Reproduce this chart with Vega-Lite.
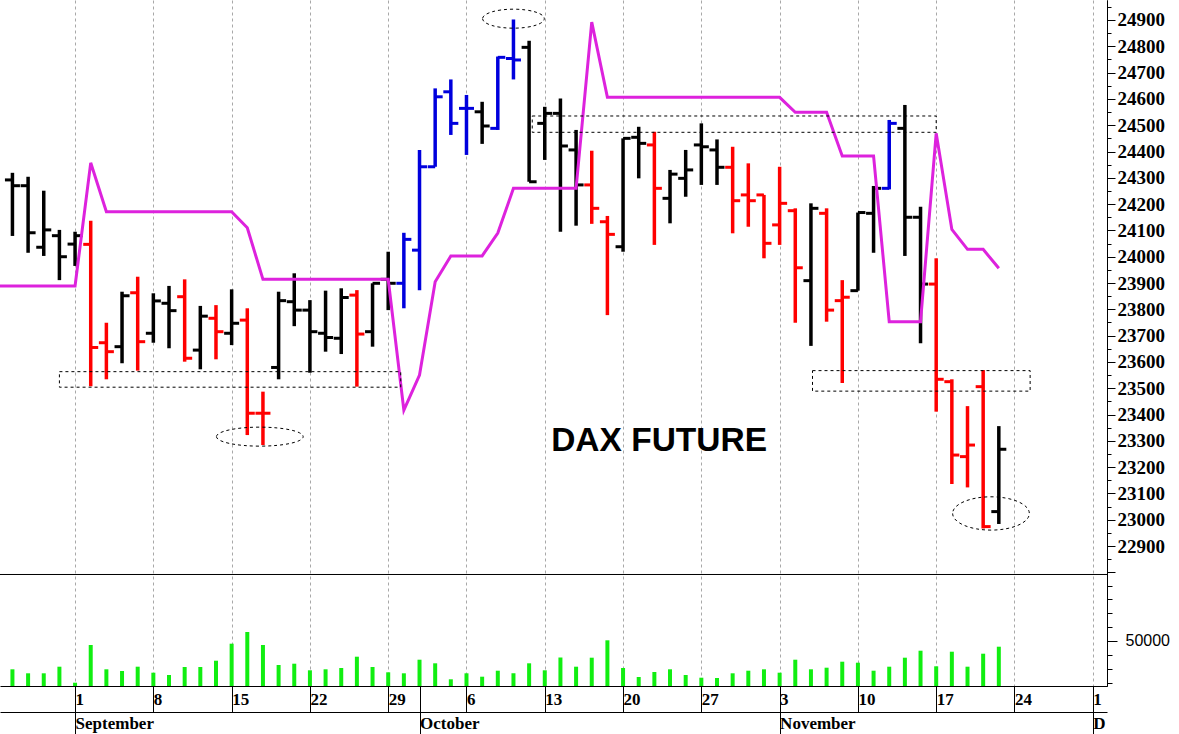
{
  "$schema": "https://vega.github.io/schema/vega-lite/v6.json",
  "width": 1107,
  "height": 686,
  "autosize": {"type": "none"},
  "padding": {"left": 0, "top": 0, "right": 72, "bottom": 48},
  "background": "white",
  "config": {
    "view": {"stroke": null},
    "axis": {"domainColor": "#000", "tickColor": "#000", "labelColor": "#000", "domainWidth": 1, "tickWidth": 1}
  },
  "datasets": {
    "px": [
      {"d": "2025-08-25", "i": -5, "s": 23889},
      {"d": "2025-08-26", "i": -4, "col": "k", "o": 24292, "h": 24319, "l": 24079, "c": 24270, "s": 23889, "v": 29560},
      {"d": "2025-08-27", "i": -3, "col": "k", "o": 24270, "h": 24304, "l": 24015, "c": 24091, "s": 23889, "v": 26670},
      {"d": "2025-08-28", "i": -2, "col": "k", "o": 24036, "h": 24251, "l": 24003, "c": 24102, "s": 23889, "v": 26670},
      {"d": "2025-08-29", "i": -1, "col": "k", "o": 24080, "h": 24102, "l": 23911, "c": 24000, "s": 23889, "v": 31440},
      {"d": "2025-09-01", "i": 0, "col": "k", "o": 24048, "h": 24095, "l": 23965, "c": 24080, "s": 23889, "v": 19880},
      {"d": "2025-09-02", "i": 1, "col": "r", "o": 24047, "h": 24137, "l": 23508, "c": 23655, "s": 24357, "v": 47110},
      {"d": "2025-09-03", "i": 2, "col": "r", "o": 23673, "h": 23749, "l": 23534, "c": 23639, "s": 24171, "v": 29560},
      {"d": "2025-09-04", "i": 3, "col": "k", "o": 23658, "h": 23867, "l": 23595, "c": 23852, "s": 24171, "v": 28330},
      {"d": "2025-09-05", "i": 4, "col": "r", "o": 23863, "h": 23924, "l": 23567, "c": 23677, "s": 24171, "v": 31440},
      {"d": "2025-09-08", "i": 5, "col": "k", "o": 23709, "h": 23861, "l": 23673, "c": 23832, "s": 24171, "v": 27110},
      {"d": "2025-09-09", "i": 6, "col": "k", "o": 23823, "h": 23889, "l": 23652, "c": 23795, "s": 24171, "v": 25440},
      {"d": "2025-09-10", "i": 7, "col": "r", "o": 23848, "h": 23914, "l": 23601, "c": 23614, "s": 24171, "v": 31220},
      {"d": "2025-09-11", "i": 8, "col": "k", "o": 23645, "h": 23813, "l": 23572, "c": 23774, "s": 24171, "v": 31220},
      {"d": "2025-09-12", "i": 9, "col": "r", "o": 23766, "h": 23816, "l": 23610, "c": 23715, "s": 24171, "v": 35770},
      {"d": "2025-09-15", "i": 10, "col": "k", "o": 23709, "h": 23876, "l": 23664, "c": 23747, "s": 24171, "v": 48050},
      {"d": "2025-09-16", "i": 11, "col": "r", "o": 23759, "h": 23804, "l": 23322, "c": 23405, "s": 24110, "v": 56500},
      {"d": "2025-09-17", "i": 12, "col": "r", "o": 23405, "h": 23487, "l": 23284, "c": 23405, "s": 23914, "v": 47110},
      {"d": "2025-09-18", "i": 13, "col": "k", "o": 23579, "h": 23867, "l": 23534, "c": 23833, "s": 23914, "v": 32670},
      {"d": "2025-09-19", "i": 14, "col": "k", "o": 23829, "h": 23937, "l": 23736, "c": 23797, "s": 23914, "v": 33610},
      {"d": "2025-09-22", "i": 15, "col": "k", "o": 23797, "h": 23835, "l": 23559, "c": 23715, "s": 23914, "v": 28840},
      {"d": "2025-09-23", "i": 16, "col": "k", "o": 23709, "h": 23871, "l": 23639, "c": 23693, "s": 23914, "v": 29560},
      {"d": "2025-09-24", "i": 17, "col": "k", "o": 23690, "h": 23880, "l": 23630, "c": 23845, "s": 23914, "v": 30500},
      {"d": "2025-09-25", "i": 18, "col": "r", "o": 23854, "h": 23873, "l": 23506, "c": 23706, "s": 23914, "v": 38660},
      {"d": "2025-09-26", "i": 19, "col": "k", "o": 23715, "h": 23899, "l": 23658, "c": 23899, "s": 23914, "v": 31220},
      {"d": "2025-09-29", "i": 20, "col": "k", "o": 23914, "h": 24019, "l": 23797, "c": 23899, "s": 23914, "v": 27390},
      {"d": "2025-09-30", "i": 21, "col": "b", "o": 23899, "h": 24091, "l": 23804, "c": 24066, "s": 23417, "v": 26670},
      {"d": "2025-10-01", "i": 22, "col": "b", "o": 24025, "h": 24406, "l": 23873, "c": 24342, "s": 23550, "v": 36490},
      {"d": "2025-10-02", "i": 23, "col": "b", "o": 24342, "h": 24640, "l": 24342, "c": 24608, "s": 23905, "v": 33890},
      {"d": "2025-10-03", "i": 24, "col": "b", "o": 24627, "h": 24674, "l": 24463, "c": 24507, "s": 24003, "v": 22340},
      {"d": "2025-10-06", "i": 25, "col": "b", "o": 24564, "h": 24615, "l": 24387, "c": 24564, "s": 24003, "v": 26670},
      {"d": "2025-10-07", "i": 26, "col": "k", "o": 24551, "h": 24589, "l": 24429, "c": 24497, "s": 24003, "v": 24220},
      {"d": "2025-10-08", "i": 27, "col": "b", "o": 24488, "h": 24761, "l": 24482, "c": 24758, "s": 24090, "v": 28550},
      {"d": "2025-10-09", "i": 28, "col": "b", "o": 24754, "h": 24902, "l": 24674, "c": 24748, "s": 24260, "v": 26670},
      {"d": "2025-10-10", "i": 29, "col": "k", "o": 24796, "h": 24821, "l": 24285, "c": 24285, "s": 24260, "v": 33890},
      {"d": "2025-10-13", "i": 30, "col": "k", "o": 24507, "h": 24570, "l": 24368, "c": 24545, "s": 24260, "v": 28840},
      {"d": "2025-10-14", "i": 31, "col": "k", "o": 24545, "h": 24602, "l": 24095, "c": 24421, "s": 24260, "v": 38080},
      {"d": "2025-10-15", "i": 32, "col": "k", "o": 24406, "h": 24482, "l": 24118, "c": 24273, "s": 24260, "v": 31440},
      {"d": "2025-10-16", "i": 33, "col": "r", "o": 24273, "h": 24403, "l": 24125, "c": 24184, "s": 24892, "v": 37940},
      {"d": "2025-10-17", "i": 34, "col": "r", "o": 24133, "h": 24155, "l": 23778, "c": 24085, "s": 24606, "v": 50500},
      {"d": "2025-10-20", "i": 35, "col": "k", "o": 24038, "h": 24450, "l": 24019, "c": 24450, "s": 24606, "v": 30500},
      {"d": "2025-10-21", "i": 36, "col": "k", "o": 24454, "h": 24494, "l": 24298, "c": 24431, "s": 24606, "v": 24000},
      {"d": "2025-10-22", "i": 37, "col": "r", "o": 24425, "h": 24475, "l": 24045, "c": 24260, "s": 24606, "v": 27610},
      {"d": "2025-10-23", "i": 38, "col": "k", "o": 24222, "h": 24330, "l": 24127, "c": 24314, "s": 24606, "v": 29560},
      {"d": "2025-10-24", "i": 39, "col": "k", "o": 24298, "h": 24406, "l": 24228, "c": 24330, "s": 24606, "v": 25440},
      {"d": "2025-10-27", "i": 40, "col": "k", "o": 24425, "h": 24507, "l": 24273, "c": 24418, "s": 24606, "v": 23490},
      {"d": "2025-10-28", "i": 41, "col": "k", "o": 24406, "h": 24446, "l": 24273, "c": 24340, "s": 24606, "v": 23280},
      {"d": "2025-10-29", "i": 42, "col": "r", "o": 24340, "h": 24418, "l": 24089, "c": 24213, "s": 24606, "v": 26670},
      {"d": "2025-10-30", "i": 43, "col": "r", "o": 24235, "h": 24355, "l": 24114, "c": 24213, "s": 24606, "v": 28550},
      {"d": "2025-10-31", "i": 44, "col": "r", "o": 24235, "h": 24235, "l": 23994, "c": 24051, "s": 24606, "v": 29560},
      {"d": "2025-11-03", "i": 45, "col": "r", "o": 24121, "h": 24342, "l": 24045, "c": 24203, "s": 24606, "v": 27110},
      {"d": "2025-11-04", "i": 46, "col": "r", "o": 24175, "h": 24184, "l": 23749, "c": 23958, "s": 24549, "v": 36490},
      {"d": "2025-11-05", "i": 47, "col": "k", "o": 23909, "h": 24203, "l": 23661, "c": 24184, "s": 24549, "v": 29560},
      {"d": "2025-11-06", "i": 48, "col": "r", "o": 24165, "h": 24184, "l": 23753, "c": 23797, "s": 24549, "v": 30720},
      {"d": "2025-11-07", "i": 49, "col": "r", "o": 23833, "h": 23911, "l": 23520, "c": 23846, "s": 24383, "v": 35050},
      {"d": "2025-11-10", "i": 50, "col": "k", "o": 23871, "h": 24168, "l": 23871, "c": 24168, "s": 24383, "v": 34330},
      {"d": "2025-11-11", "i": 51, "col": "k", "o": 24165, "h": 24269, "l": 24015, "c": 24260, "s": 24383, "v": 28550},
      {"d": "2025-11-12", "i": 52, "col": "b", "o": 24260, "h": 24520, "l": 24256, "c": 24507, "s": 23753, "v": 31440},
      {"d": "2025-11-13", "i": 53, "col": "k", "o": 24488, "h": 24577, "l": 24003, "c": 24150, "s": 23753, "v": 37940},
      {"d": "2025-11-14", "i": 54, "col": "k", "o": 24150, "h": 24190, "l": 23671, "c": 23896, "s": 23753, "v": 42990},
      {"d": "2025-11-17", "i": 55, "col": "r", "o": 23896, "h": 23994, "l": 23411, "c": 23534, "s": 24469, "v": 31730},
      {"d": "2025-11-18", "i": 56, "col": "r", "o": 23525, "h": 23534, "l": 23136, "c": 23246, "s": 24104, "v": 42270},
      {"d": "2025-11-19", "i": 57, "col": "r", "o": 23240, "h": 23432, "l": 23123, "c": 23284, "s": 24028, "v": 31440},
      {"d": "2025-11-20", "i": 58, "col": "r", "o": 23506, "h": 23569, "l": 22967, "c": 22974, "s": 24028, "v": 40830},
      {"d": "2025-11-21", "i": 59, "col": "k", "o": 23031, "h": 23356, "l": 22984, "c": 23268, "s": 23956, "v": 45880}
    ],
    "boxes": [
      {"x1": -1.0, "x2": 20.8, "p1": 23504, "p2": 23563},
      {"x1": 29.2, "x2": 55.0, "p1": 24473, "p2": 24535},
      {"x1": 47.1, "x2": 61.0, "p1": 23489, "p2": 23567}
    ],
    "ovals": [
      {"name": "e1", "i": 11.8, "p": 23316},
      {"name": "e2", "i": 28.0, "p": 24905},
      {"name": "e3", "i": 58.5, "p": 23024}
    ]
  },
  "resolve": {"scale": {"y": "independent"}, "axis": {"x": "independent", "y": "independent"}},
  "layer": [
    {
      "data": {"name": "px"},
      "mark": {"type": "rule", "strokeWidth": 3.5},
      "encoding": {
        "x": {
          "field": "i", "type": "quantitative",
          "scale": {"domain": [-4.475, 65.59], "nice": false, "zero": false},
          "axis": {
            "orient": "bottom", "title": null,
            "values": [-5, 0, 5, 10, 15, 20, 22, 25, 30, 35, 40, 45, 50, 55, 60, 65],
            "labelExpr": "datum.value == -5 ? '25' : datum.value == 0 ? '1' : datum.value == 5 ? '8' : datum.value == 10 ? '15' : datum.value == 15 ? '22' : datum.value == 20 ? '29' : datum.value == 25 ? '6' : datum.value == 30 ? '13' : datum.value == 35 ? '20' : datum.value == 40 ? '27' : datum.value == 45 ? '3' : datum.value == 50 ? '10' : datum.value == 55 ? '17' : datum.value == 60 ? '24' : datum.value == 65 ? '1' : ''",
            "tickSize": 26, "labelPadding": -13, "labelBaseline": "middle", "labelAlign": "left", "labelDx": 3,
            "labelFont": "Liberation Serif", "labelFontWeight": "bold", "labelFontSize": 17,
            "labelOverlap": false, "labelFlush": false, "labelBound": false,
            "grid": true, "gridDash": [3, 3], "gridColor": "#a8a8a8", "gridWidth": 1,
            "gridOpacity": {"condition": {"test": "datum.value == 22", "value": 0}, "value": 1}
          }
        },
        "y": {
          "field": "h", "type": "quantitative",
          "scale": {"domain": [22368, 24976], "nice": false, "zero": false},
          "axis": {
            "orient": "right", "title": null, "grid": false,
            "values": [22800, 22850, 22900, 22950, 23000, 23050, 23100, 23150, 23200, 23250, 23300, 23350, 23400, 23450, 23500, 23550, 23600, 23650, 23700, 23750, 23800, 23850, 23900, 23950, 24000, 24050, 24100, 24150, 24200, 24250, 24300, 24350, 24400, 24450, 24500, 24550, 24600, 24650, 24700, 24750, 24800, 24850, 24900, 24950],
            "labelExpr": "datum.value >= 22900 && datum.value % 100 == 0 ? '' + datum.value : ''",
            "tickSize": {"condition": {"test": "datum.value % 100 == 0", "value": 8}, "value": 4},
            "labelPadding": 2, "labelBaseline": "middle",
            "labelFont": "Liberation Serif", "labelFontWeight": "bold", "labelFontSize": 19,
            "labelOverlap": false, "labelFlush": false, "labelBound": false
          }
        },
        "y2": {"field": "l"},
        "color": {"field": "col", "type": "nominal", "scale": {"domain": ["k", "r", "b"], "range": ["#000000", "#ff0000", "#0000dd"]}, "legend": null}
      }
    },
    {
      "data": {"name": "px"},
      "mark": {"type": "tick", "orient": "horizontal", "size": 7.5, "thickness": 3, "xOffset": -3.75, "opacity": 1},
      "encoding": {
        "x": {"field": "i", "type": "quantitative", "axis": null},
        "y": {"field": "o", "type": "quantitative", "axis": null, "scale": {"domain": [22368, 24976], "nice": false, "zero": false}},
        "color": {"field": "col", "type": "nominal", "legend": null}
      }
    },
    {
      "data": {"name": "px"},
      "mark": {"type": "tick", "orient": "horizontal", "size": 7.5, "thickness": 3, "xOffset": 3.75, "opacity": 1},
      "encoding": {
        "x": {"field": "i", "type": "quantitative", "axis": null},
        "y": {"field": "c", "type": "quantitative", "axis": null, "scale": {"domain": [22368, 24976], "nice": false, "zero": false}},
        "color": {"field": "col", "type": "nominal", "legend": null}
      }
    },
    {
      "data": {"name": "px"},
      "mark": {"type": "line", "color": "#dd22dd", "strokeWidth": 3, "clip": true},
      "encoding": {
        "x": {"field": "i", "type": "quantitative", "axis": null},
        "y": {"field": "s", "type": "quantitative", "axis": null, "scale": {"domain": [22368, 24976], "nice": false, "zero": false}}
      }
    },
    {
      "data": {"name": "boxes"},
      "mark": {"type": "rect", "fill": "transparent", "stroke": "#000", "strokeWidth": 1, "strokeDash": [3, 3]},
      "encoding": {
        "x": {"field": "x1", "type": "quantitative", "axis": null},
        "x2": {"field": "x2"},
        "y": {"field": "p1", "type": "quantitative", "axis": null, "scale": {"domain": [22368, 24976], "nice": false, "zero": false}},
        "y2": {"field": "p2"}
      }
    },
    {
      "data": {"name": "ovals"},
      "mark": {"type": "point", "filled": false, "stroke": "#000", "strokeWidth": 1, "strokeDash": [3, 3], "size": 10000, "opacity": 1},
      "encoding": {
        "x": {"field": "i", "type": "quantitative", "axis": null},
        "y": {"field": "p", "type": "quantitative", "axis": null, "scale": {"domain": [22368, 24976], "nice": false, "zero": false}},
        "shape": {
          "field": "name", "type": "nominal", "legend": null,
          "scale": {
            "domain": ["e1", "e2", "e3"],
            "range": [
              "M -0.867 0 A 0.867 0.19 0 1 0 0.867 0 A 0.867 0.19 0 1 0 -0.867 0 Z",
              "M -0.617 0 A 0.617 0.19 0 1 0 0.617 0 A 0.617 0.19 0 1 0 -0.617 0 Z",
              "M -0.767 0 A 0.767 0.333 0 1 0 0.767 0 A 0.767 0.333 0 1 0 -0.767 0 Z"
            ]
          }
        }
      }
    },
    {
      "data": {"values": [{"label": "DAX FUTURE", "i": 37.3, "p": 23300}]},
      "mark": {"type": "text", "font": "Liberation Sans", "fontWeight": "bold", "fontSize": 33.5, "align": "center", "baseline": "middle", "color": "#000"},
      "encoding": {
        "x": {"field": "i", "type": "quantitative", "axis": null},
        "y": {"field": "p", "type": "quantitative", "axis": null, "scale": {"domain": [22368, 24976], "nice": false, "zero": false}},
        "text": {"field": "label"}
      }
    },
    {
      "data": {"values": [{"p": 22791.9}]},
      "mark": {"type": "rule", "color": "#000", "strokeWidth": 1},
      "encoding": {
        "y": {"field": "p", "type": "quantitative", "axis": null, "scale": {"domain": [22368, 24976], "nice": false, "zero": false}}
      }
    },
    {
      "data": {"name": "px"},
      "mark": {"type": "bar", "size": 4, "color": "#11ee11"},
      "encoding": {
        "x": {
          "field": "i", "type": "quantitative",
          "axis": {
            "orient": "bottom", "offset": 26, "title": null,
            "values": [0, 22, 45, 65],
            "labelExpr": "datum.value == 0 ? 'September' : datum.value == 22 ? 'October' : datum.value == 45 ? 'November' : 'D'",
            "tickSize": 22, "labelPadding": -11, "labelBaseline": "middle", "labelAlign": "left", "labelDx": 3,
            "labelFont": "Liberation Serif", "labelFontWeight": "bold", "labelFontSize": 17,
            "labelOverlap": false, "labelFlush": false, "labelBound": false, "grid": false
          }
        },
        "y": {
          "field": "v", "type": "quantitative",
          "scale": {"domain": [17500, 512930], "nice": false, "zero": false},
          "axis": {
            "orient": "right", "title": null, "grid": false,
            "values": [20000, 30000, 40000, 50000, 60000, 70000, 80000, 90000],
            "labelExpr": "datum.value == 50000 ? '50000' : ''",
            "tickSize": {"condition": {"test": "datum.value == 50000", "value": 10}, "value": 5},
            "labelPadding": 8, "labelBaseline": "middle",
            "labelFont": "Liberation Sans", "labelFontSize": 16,
            "labelOverlap": false, "labelFlush": false, "labelBound": false
          }
        },
        "y2": {"datum": 17500}
      }
    }
  ]
}
